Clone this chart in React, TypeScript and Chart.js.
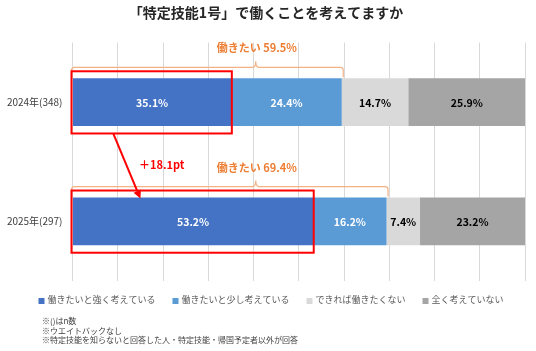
import React, { useEffect, useRef } from 'react';
import { Chart, registerables } from 'chart.js';

Chart.register(...registerables);

const TITLE = '「特定技能1号」で働くことを考えてますか';
const categories = ['2024年(348)', '2025年(297)'];
const seriesNames = ['働きたいと強く考えている', '働きたいと少し考えている', 'できれば働きたくない', '全く考えていない'];
const strongly = [35.1, 53.2];
const somewhat = [24.4, 16.2];
const ratherNot = [14.7, 7.4];
const notAtAll = [25.9, 23.2];
const bracketLabel = '働きたい';
const footnotes = [
  '※()はn数',
  '※ウエイトバックなし',
  '※特定技能を知らないと回答した人・特定技能・帰国予定者以外が回答',
];

const COLORS = ['#4472C4', '#5B9BD5', '#D9D9D9', '#A5A5A5'];
const LABEL_COLORS = ['#FFFFFF', '#FFFFFF', '#000000', '#000000'];
const FONT = '"Noto Sans CJK JP", "Noto Sans", sans-serif';
const ORANGE_TEXT = '#ED7D31';
const ORANGE_LINE = '#F4B183';
const RED = '#FF0000';

function brace(ctx: CanvasRenderingContext2D, x0: number, x1: number, xp: number, yh: number, yEnd: number, peak: number) {
  const r = 3;
  ctx.beginPath();
  ctx.moveTo(x0, yEnd);
  ctx.lineTo(x0, yh + r);
  ctx.quadraticCurveTo(x0, yh, x0 + r, yh);
  ctx.lineTo(xp - r, yh);
  ctx.quadraticCurveTo(xp, yh, xp, yh - peak);
  ctx.quadraticCurveTo(xp, yh, xp + r, yh);
  ctx.lineTo(x1 - r, yh);
  ctx.quadraticCurveTo(x1, yh, x1, yh + r);
  ctx.lineTo(x1, yEnd);
  ctx.stroke();
}

const overlayPlugin = {
  id: 'overlay',
  afterDatasetsDraw(chart: any) {
    const ctx: CanvasRenderingContext2D = chart.ctx;
    const xs = chart.scales.x;
    ctx.save();
    // data labels
    chart.data.datasets.forEach((ds: any, i: number) => {
      const meta = chart.getDatasetMeta(i);
      meta.data.forEach((el: any, j: number) => {
        const v = ds.data[j];
        const cx = (el.x + el.base) / 2;
        ctx.font = `bold 10.5px ${FONT}`;
        ctx.fillStyle = LABEL_COLORS[i];
        ctx.textAlign = 'center';
        ctx.textBaseline = 'middle';
        ctx.fillText(v.toFixed(1) + '%', cx, el.y + 0.5);
      });
    });

    const m0 = chart.getDatasetMeta(0).data;
    const peakX = xs.getPixelForValue(40.5);
    // brackets
    categories.forEach((_, j) => {
      const el = m0[j];
      const top = el.y - el.height / 2;
      const sum = strongly[j] + somewhat[j];
      const x0 = xs.getPixelForValue(0) - 1;
      const x1 = xs.getPixelForValue(sum) + 1.5;
      const yh = top - 11;
      ctx.strokeStyle = ORANGE_LINE;
      ctx.lineWidth = 1.2;
      brace(ctx, x0, x1, peakX, yh, top - 1, 6);
      ctx.font = `bold 11px ${FONT}`;
      ctx.fillStyle = ORANGE_TEXT;
      ctx.textAlign = 'center';
      ctx.textBaseline = 'middle';
      ctx.fillText(`${bracketLabel} ${sum.toFixed(1)}%`, peakX + 1, yh - 19);
    });

    // red boxes
    ctx.strokeStyle = RED;
    ctx.lineWidth = 2;
    const boxes: any[] = [];
    m0.forEach((el: any) => {
      const top = el.y - el.height / 2 - 7;
      const bottom = el.y + el.height / 2 + 7.5;
      const left = el.base - 1.5;
      const right = el.x + 0.5;
      ctx.strokeRect(left, top, right - left, bottom - top);
      boxes.push({ top, bottom, left, right, barTop: el.y - el.height / 2 });
    });

    // arrow
    const ax0 = xs.getPixelForValue(9);
    const ay0 = boxes[0].bottom;
    const ax1 = xs.getPixelForValue(15);
    const ay1 = boxes[1].barTop + 1;
    const ang = Math.atan2(ay1 - ay0, ax1 - ax0);
    const headLen = 8;
    const headW = 4;
    const bx = ax1 - headLen * Math.cos(ang);
    const by = ay1 - headLen * Math.sin(ang);
    ctx.beginPath();
    ctx.moveTo(ax0, ay0);
    ctx.lineTo(bx, by);
    ctx.stroke();
    ctx.fillStyle = RED;
    ctx.beginPath();
    ctx.moveTo(ax1, ay1);
    ctx.lineTo(bx + headW * Math.sin(ang), by - headW * Math.cos(ang));
    ctx.lineTo(bx - headW * Math.sin(ang), by + headW * Math.cos(ang));
    ctx.closePath();
    ctx.fill();

    // diff label
    const diff = strongly[1] - strongly[0];
    ctx.font = `bold 11px ${FONT}`;
    ctx.fillStyle = RED;
    ctx.textAlign = 'center';
    ctx.textBaseline = 'middle';
    ctx.fillText(`＋${diff.toFixed(1)}pt`, xs.getPixelForValue(19.7), boxes[1].barTop - 33);

    ctx.restore();
  },
  afterDraw(chart: any) {
    const ctx: CanvasRenderingContext2D = chart.ctx;
    ctx.save();
    // title
    ctx.font = `bold 14px ${FONT}`;
    ctx.fillStyle = '#262626';
    ctx.textAlign = 'center';
    ctx.textBaseline = 'middle';
    ctx.fillText(TITLE, 266, 13);

    // legend
    ctx.font = `9px ${FONT}`;
    const box = 6;
    const textGap = 3;
    const itemGap = 17;
    const widths = chart.data.datasets.map((ds: any) => box + textGap + ctx.measureText(ds.label).width);
    const total = widths.reduce((a: number, b: number) => a + b, 0) + itemGap * (widths.length - 1);
    let x = 271 - total / 2;
    const ly = 300;
    chart.data.datasets.forEach((ds: any, i: number) => {
      ctx.fillStyle = ds.backgroundColor;
      ctx.fillRect(x, ly - box / 2 + 1, box, box);
      ctx.fillStyle = '#595959';
      ctx.textAlign = 'left';
      ctx.textBaseline = 'middle';
      ctx.fillText(ds.label, x + box + textGap, ly);
      x += widths[i] + itemGap;
    });

    // footnotes
    ctx.font = `8px ${FONT}`;
    ctx.fillStyle = '#404040';
    ctx.textAlign = 'left';
    ctx.textBaseline = 'middle';
    footnotes.forEach((t, i) => {
      ctx.fillText(t, 42, 321 + i * 9.5);
    });
    ctx.restore();
  },
};

export default function App() {
  const ref = useRef<HTMLCanvasElement>(null);
  useEffect(() => {
    if (!ref.current) return;
    const series = [strongly, somewhat, ratherNot, notAtAll];
    const chart = new Chart(ref.current, {
      type: 'bar',
      data: {
        labels: categories,
        datasets: series.map((d, i) => ({
          label: seriesNames[i],
          data: d,
          backgroundColor: COLORS[i],
          borderWidth: 0,
          barPercentage: 0.4,
          categoryPercentage: 1,
        })),
      },
      options: {
        indexAxis: 'y',
        responsive: false,
        animation: false,
        devicePixelRatio: 1,
        layout: { padding: { top: 42.5, bottom: 70, left: 0, right: 11 } },
        plugins: {
          legend: { display: false },
          title: { display: false },
          tooltip: { enabled: false },
        },
        scales: {
          x: {
            stacked: true,
            min: 0,
            max: 100,
            ticks: { display: false, stepSize: 10 },
            grid: { color: '#D9D9D9', lineWidth: 1, drawTicks: false },
            border: { display: false },
          },
          y: {
            stacked: true,
            ticks: { color: '#404040', font: { family: FONT, size: 10 }, padding: 10 },
            grid: { display: false, drawTicks: false },
            border: { display: false },
            afterFit: (s: any) => { s.width = 72.5; },
          },
        },
      },
      plugins: [overlayPlugin],
    } as any);
    return () => chart.destroy();
  }, []);
  return (
    <div style={{ position: 'absolute', left: 0, top: 0, width: 536, height: 351, background: '#fff' }}>
      <canvas ref={ref} width={536} height={351} style={{ width: 536, height: 351 }} />
    </div>
  );
}
